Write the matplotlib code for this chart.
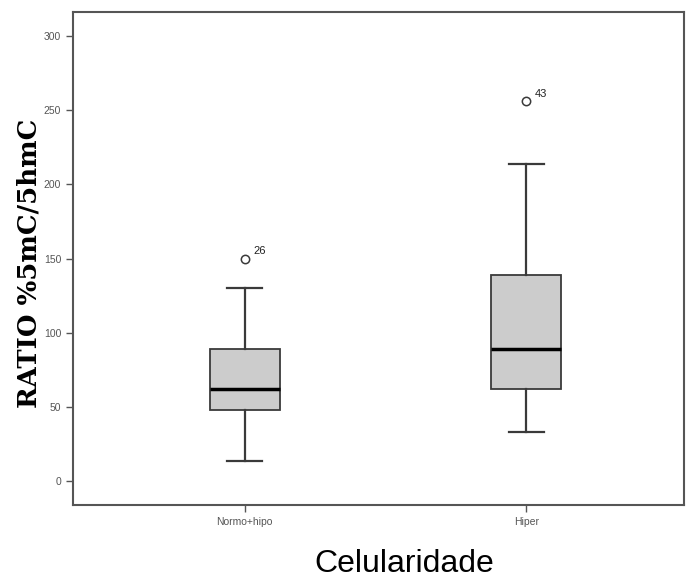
import matplotlib
matplotlib.use("Agg")
import matplotlib.pyplot as plt

# data
groups = ["Normo+hipo", "Hiper"]
q1 = [48, 62]
medians = [62, 89]
q3 = [89, 139]
whisker_low = [13.5, 33.5]
whisker_high = [130, 214]
outliers = [150, 256]
outlier_ids = ["26", "43"]

stats = []
for i in range(len(groups)):
    stats.append({"label": groups[i], "q1": q1[i], "med": medians[i], "q3": q3[i],
                  "whislo": whisker_low[i], "whishi": whisker_high[i],
                  "fliers": [outliers[i]]})

fig = plt.figure(figsize=(6.86, 5.78), dpi=100)
ax = fig.add_axes([0.1064, 0.1263, 0.8906, 0.8527])

edge = "#3a3a3a"
ax.bxp(stats, positions=[1, 2], widths=0.25, patch_artist=True, showfliers=True,
       boxprops=dict(facecolor="#cccccc", edgecolor=edge, linewidth=1.3),
       medianprops=dict(color="black", linewidth=2.5),
       whiskerprops=dict(color=edge, linewidth=1.6),
       capprops=dict(color=edge, linewidth=1.6),
       capwidths=0.125,
       flierprops=dict(marker="o", markerfacecolor="white", markeredgecolor=edge,
                       markersize=6, markeredgewidth=1.1))

for i in range(len(groups)):
    ax.annotate(outlier_ids[i], (i + 1, outliers[i]), xytext=(6, 3),
                textcoords="offset points", fontsize=8, color="#222222",
                family="Liberation Sans")

ax.set_xlim(0.39, 2.56)
ax.set_ylim(-16, 316)
ax.set_yticks([0, 50, 100, 150, 200, 250, 300])
ax.set_xticks([1, 2])
ax.set_xticklabels(groups)

for lab in ax.get_xticklabels() + ax.get_yticklabels():
    lab.set_family("Liberation Sans")
    lab.set_fontsize(7.5)
    lab.set_color("#333333")

ax.tick_params(colors="#555555", length=5, width=1)
for s in ax.spines.values():
    s.set_color("#555555")
    s.set_linewidth(1.5)

ax.set_xlabel("Celularidade", fontsize=23, family="Liberation Sans")
ax.xaxis.set_label_coords(0.542, -0.12)
ax.xaxis.label.set_verticalalignment("center")
ax.set_ylabel("RATIO %5mC/5hmC", fontsize=18.7, family="DejaVu Serif",
              fontweight="bold")
ax.yaxis.set_label_coords(-0.072, 0.49)
ax.yaxis.label.set_verticalalignment("center")

plt.savefig("out.png", dpi=100)
